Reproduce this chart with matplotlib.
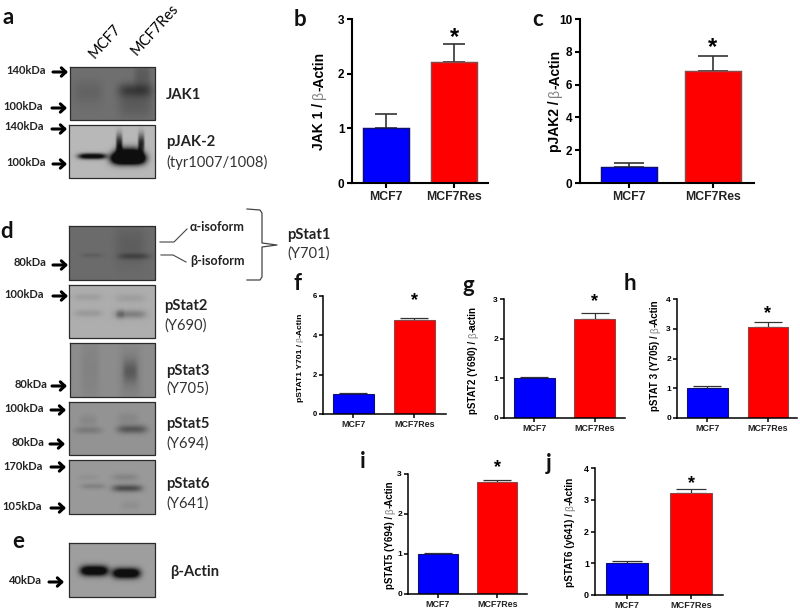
import matplotlib
matplotlib.use('Agg')
import numpy as np
import matplotlib.pyplot as plt

W, H = 800, 611

# bar chart values
groups = ['MCF7', 'MCF7Res']
jak1_vals = [1.0, 2.22]
jak1_err = [0.26, 0.32]
pjak2_vals = [1.0, 6.8]
pjak2_err = [0.24, 0.92]
stat1_vals = [1.0, 4.78]
stat1_err = [0.05, 0.10]
stat2_vals = [1.0, 2.5]
stat2_err = [0.04, 0.15]
stat3_vals = [1.0, 3.07]
stat3_err = [0.07, 0.15]
stat5_vals = [1.0, 2.81]
stat5_err = [0.03, 0.04]
stat6_vals = [1.0, 3.22]
stat6_err = [0.07, 0.12]

# blot bands: centre x, centre y, spread x, spread y, darkness
jak1_bands = [(135, 90, 17, 5, .18), (135, 104, 17, 10, .08), (88, 92, 15, 9, .05), (142, 75, 8, 9, .08)]
pjak2_bands = [(92, 156, 14, 2.0, .85), (128, 158, 17, 4.2, 1.5), (128, 151, 13, 4, .45),
               (119, 143, 3.2, 6.5, .55), (141, 143, 3.2, 6.5, .55)]
pstat1_bands = [(134, 256, 16, 2.2, .13), (92, 255, 11, 1.5, .05), (130, 245, 15, 14, .05)]
pstat2_bands = [(88, 297, 14, 2.5, .06), (88, 313, 14, 2.5, .08), (130, 298, 15, 3, .06),
                (130, 314, 16, 3, .18), (120, 314, 4, 3, .12)]
pstat3_bands = [(90, 370, 9, 25, .04), (130, 375, 11, 20, .06), (130, 371, 7, 8, .14)]
pstat5_bands = [(88, 430, 14, 2.5, .10), (88, 420, 9, 4, .05), (132, 429, 15, 3, .24), (128, 418, 11, 4, .05)]
pstat6_bands = [(93, 486, 12, 2, .09), (88, 477, 10, 2, .03), (127, 488, 15, 2.5, .30),
                (125, 477, 13, 2.5, .08), (130, 505, 9, 3, .04)]
actin_bands = [(94, 570.5, 14, 3.6, .85), (126, 573, 14, 3.6, .85)]

SANS = 'Liberation Sans'
LABEL = 'Lato'

fig = plt.figure(figsize=(W / 100, H / 100), dpi=100)
over = fig.add_axes([0, 0, 1, 1])
over.set_xlim(0, W)
over.set_ylim(H, 0)
over.axis('off')


def blot(x0, x1, y0, y1, bg, bands):
    xx, yy = np.meshgrid(np.arange(x0, x1, 0.5), np.arange(y0, y1, 0.5))
    img = np.full(xx.shape, float(bg))
    for cx, cy, sx, sy, d in bands:
        # flat topped along x so that neighbouring lanes stay apart
        img -= d * np.exp(-((xx - cx) / sx) ** 4 - ((yy - cy) / sy) ** 2 / 2)
    img = np.clip(img, 0.06, 1)
    over.imshow(img, cmap='gray', vmin=0, vmax=1, extent=(x0, x1, y1, y0), aspect='auto', interpolation='bilinear')
    over.plot([x0, x1, x1, x0, x0], [y0, y0, y1, y1, y0], color='#2b2b2b', lw=0.9)


blot(70, 155, 67, 120, .44, jak1_bands)
blot(69, 155, 125, 178, .72, pjak2_bands)
blot(69, 155, 226, 280, .42, pstat1_bands)
blot(69, 155, 285, 338, .68, pstat2_bands)
blot(70, 155, 343, 397, .55, pstat3_bands)
blot(69, 155, 402, 455, .58, pstat5_bands)
blot(69, 155, 460, 514, .60, pstat6_bands)
blot(69, 155, 543, 597, .62, actin_bands)
over.set_xlim(0, W)
over.set_ylim(H, 0)

# kDa markers
kda = [('140kDa', 26, 70, 53, 67, 72), ('100kDa', 23, 107, 52, 66, 108), ('140kDa', 24, 127, 52, 66, 129),
       ('100kDa', 26, 163, 53, 66, 164), ('80kDa', 30, 263, 53, 67, 265), ('100kDa', 24, 295, 53, 67, 296),
       ('80kDa', 31, 384, 52, 66, 386), ('100kDa', 24, 409, 51, 65, 410), ('80kDa', 28, 443, 50, 64, 444),
       ('170kDa', 23, 466, 51, 65, 467), ('105kDa', 22, 507, 51, 65, 508), ('40kDa', 25, 581, 49, 63, 582)]
for name, tx, ty, ax0, ax1, ay in kda:
    over.text(tx, ty, name, fontsize=8, fontweight='bold', family=LABEL, ha='center', va='center', color='#222222')
    over.annotate('', xy=(ax1 + 1, ay), xytext=(ax0, ay),
                  arrowprops=dict(arrowstyle='->,head_length=0.32,head_width=0.3', lw=2.2, color='black', shrinkA=0, shrinkB=0))

# blot names
bold_labels = [('JAK1', 166, 95), ('pJAK-2', 166, 142), ('pStat1', 287, 235), ('pStat2', 164, 306),
               ('pStat3', 166, 371), ('pStat5', 166, 424), ('pStat6', 166, 484), ('β-Actin', 170, 572)]
thin_labels = [('(tyr1007/1008)', 166, 162), ('(Y701)', 287, 254), ('(Y690)', 164, 326), ('(Y705)', 166, 389),
               ('(Y694)', 166, 444), ('(Y641)', 166, 504)]
for name, x, y in bold_labels:
    over.text(x, y, name, fontsize=10.6, fontweight='bold', family=LABEL, va='center', color='#222222')
for name, x, y in thin_labels:
    over.text(x, y, name, fontsize=10.6, family=LABEL, va='center', color='#333333')
over.text(190, 227, 'α-isoform', fontsize=9, fontweight='bold', family=LABEL, va='center', color='#222222')
over.text(190, 261, 'β-isoform', fontsize=9, fontweight='bold', family=LABEL, va='center', color='#222222')

over.text(105, 41, 'MCF7', fontsize=10.5, family=LABEL, rotation=48, ha='center', va='center', rotation_mode='anchor', color='black')
over.text(155, 30, 'MCF7Res', fontsize=10.5, family=LABEL, rotation=48, ha='center', va='center', rotation_mode='anchor', color='black')

# brace and isoform leaders
over.plot([247, 260, 262, 262, 277, 262, 262, 260, 247], [209, 210, 213, 243, 245, 247, 277, 280, 280], color='#444444', lw=0.9)
over.plot([160, 174, 187], [242, 242, 229], color='#444444', lw=0.8)
over.plot([161, 173, 186], [255, 255, 262], color='#444444', lw=0.8)

# panel letters
letters = [('a', 8, 17), ('b', 300, 19), ('c', 538, 19), ('d', 7, 231), ('e', 18, 542), ('f', 298, 284),
           ('g', 468, 286), ('h', 630, 284), ('i', 363, 462), ('j', 549, 464)]
for name, x, y in letters:
    over.text(x, y, name, fontsize=16, fontweight='bold', family=LABEL, ha='center', va='center', color='#111111')


def ylabel(x, yc, text, size):
    # bold label with a thin grey beta, stacked along the rotated axis
    before, after = text.split('β')
    parts = [(before.strip(), 'bold', 'black'), ('β', 'normal', '#808080'), (after, 'bold', 'black')]
    r = fig.canvas.get_renderer()
    items = [over.text(x, 0, p, rotation=90, fontsize=size, fontweight=w, color=c, family=SANS,
                       ha='center', va='bottom') for p, w, c in parts]
    lens = [t.get_window_extent(r).height for t in items]
    gap = size * 0.35
    y = yc + (sum(lens) + gap) / 2
    for i, (t, n) in enumerate(zip(items, lens)):
        t.set_y(y)
        y -= n + (gap if i == 0 else 0)


def bars(left, right, top, bottom, xlim, ymax, yticks, vals, err, star, text, tsize, ssize, xsize, ysize, lw, cap, lx, lc):
    ax = fig.add_axes([left / W, 1 - bottom / H, (right - left) / W, (bottom - top) / H])
    ax.patch.set_alpha(0)
    ax.bar([0, 1], vals, width=0.67, color=['#0000ff', '#ff0000'], edgecolor=['#101070', '#8a4a4a'], linewidth=lw * 0.7, zorder=2)
    ax.errorbar([0, 1], vals, yerr=[[0, 0], err], fmt='none', ecolor='#333333', elinewidth=lw * 0.8,
                capsize=cap, capthick=lw * 0.8, zorder=1)
    ax.set_xlim(*xlim)
    ax.set_ylim(0, ymax)
    ax.set_xticks([0, 1])
    ax.set_xticklabels(groups, fontsize=xsize, fontweight='bold', family=SANS, color='#222222')
    ax.set_yticks(yticks)
    ax.set_yticklabels([str(t) for t in yticks], fontsize=tsize, fontweight='bold', family=SANS)
    ax.tick_params(width=lw, length=lw * 2.6, pad=1.5)
    for s in ['top', 'right']:
        ax.spines[s].set_visible(False)
    for s in ['left', 'bottom']:
        ax.spines[s].set_linewidth(lw)
    ax.text(1, star, '*', fontsize=ssize, fontweight='bold', family=SANS, ha='center', va='center', clip_on=False)
    ylabel(lx, lc, text, ysize)


bars(352, 488, 19, 183, (-0.5, 1.5), 3, [0, 1, 2, 3], jak1_vals, jak1_err, 2.66, 'JAK 1 / β-Actin', 8.5, 17, 8.8, 10, 1.5, 8, 319, 101)
bars(580, 754, 19, 183, (-0.58, 1.49), 10, [0, 2, 4, 6, 8, 10], pjak2_vals, pjak2_err, 8.25, 'pJAK2 / β-Actin', 8.5, 17, 8.8, 10, 1.5, 10.5, 555, 101)
bars(323, 446, 296, 414, (-0.5, 1.52), 6, [0, 2, 4, 6], stat1_vals, stat1_err, 5.75, 'pSTAT1 Y701 / β-Actin', 5.5, 13, 6.4, 6.1, 1.1, 10, 300, 357)
bars(504, 625, 299, 418, (-0.5, 1.5), 3, [0, 1, 2, 3], stat2_vals, stat2_err, 2.93, 'pSTAT2 (Y690) / β-actin', 6, 13, 6.4, 7, 1.1, 10, 473, 360)
bars(677, 797, 299, 418, (-0.5, 1.48), 4, [0, 1, 2, 3, 4], stat3_vals, stat3_err, 3.5, 'pSTAT 3 (Y705) / β-Actin', 6, 13, 6.4, 7, 1.1, 10, 655, 355)
bars(408, 527, 474, 594, (-0.5, 1.5), 3, [0, 1, 2, 3], stat5_vals, stat5_err, 3.15, 'pSTAT5 (Y694) / β-Actin', 6, 13, 6.4, 7, 1.1, 10, 390, 535)
bars(595, 723, 468, 595, (-0.5, 1.5), 4, [0, 1, 2, 3, 4], stat6_vals, stat6_err, 3.52, 'pSTAT6 (y641) / β-Actin', 6.4, 13, 6.6, 7.2, 1.1, 10.5, 570, 532)

plt.savefig('out.png', dpi=100)
